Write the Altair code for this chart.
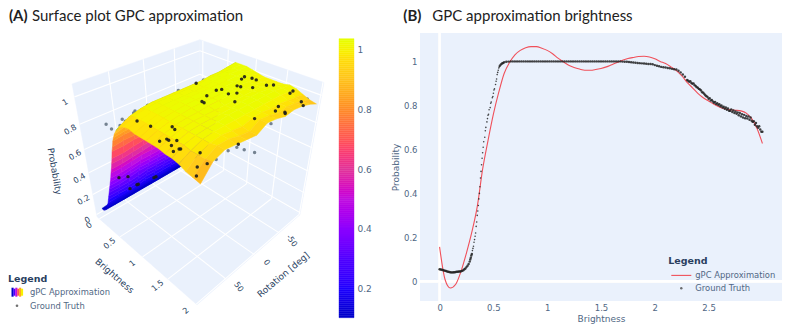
import altair as alt
import pandas as pd

# ---------- chart values ----------
surface_brightness = [0, .05, .1, .15, .175, .2, .225, .25, .275, .3, .325, .35, .375, .4, .425, .45, .475, .5, .525, .55, .575, .6, .65, .7, .8, .9, 1, 1.1, 1.2, 1.3, 1.4, 1.5, 1.6, 1.7, 1.8, 1.9, 2]
surface_rotation = [90, 75, 60, 45, 30, 15, 0, -15, -30, -45, -60, -75, -90]
surface_pct = [
    [6, 7, 8, 8, 8, 8, 8, 8, 8, 8, 8, 8, 8],
    [6, 7, 7, 7, 7, 7, 7, 7, 7, 7, 7, 7, 7],
    [8, 8, 8, 8, 8, 8, 8, 8, 8, 8, 8, 8, 8],
    [12, 12, 12, 13, 13, 13, 13, 13, 13, 13, 13, 13, 13],
    [15, 15, 15, 16, 16, 16, 16, 16, 16, 16, 16, 16, 16],
    [18, 18, 18, 19, 20, 20, 20, 20, 20, 20, 20, 20, 20],
    [22, 22, 22, 23, 24, 24, 24, 24, 24, 24, 24, 24, 24],
    [26, 26, 26, 27, 28, 28, 28, 28, 28, 28, 28, 28, 28],
    [30, 30, 30, 31, 32, 32, 32, 32, 32, 32, 32, 32, 32],
    [34, 34, 35, 36, 36, 36, 36, 36, 36, 36, 36, 36, 37],
    [38, 38, 39, 40, 40, 40, 40, 40, 40, 40, 40, 40, 41],
    [42, 42, 43, 44, 44, 44, 44, 44, 44, 45, 45, 45, 45],
    [46, 46, 47, 48, 48, 48, 48, 48, 49, 49, 49, 50, 50],
    [51, 51, 52, 53, 53, 53, 53, 53, 54, 54, 54, 55, 55],
    [55, 55, 56, 57, 58, 58, 58, 58, 59, 59, 59, 60, 60],
    [60, 60, 61, 62, 63, 63, 63, 63, 64, 64, 64, 65, 66],
    [65, 65, 66, 67, 68, 68, 68, 68, 69, 69, 70, 71, 71],
    [71, 71, 72, 72, 73, 73, 73, 73, 74, 74, 75, 76, 77],
    [75, 76, 76, 77, 77, 77, 77, 78, 78, 79, 80, 81, 82],
    [80, 81, 81, 82, 82, 82, 82, 83, 83, 84, 84, 85, 86],
    [83, 84, 85, 86, 86, 86, 86, 87, 87, 88, 88, 89, 90],
    [86, 88, 90, 91, 91, 91, 91, 91, 91, 92, 92, 93, 94],
    [90, 93, 95, 96, 96, 96, 96, 96, 96, 97, 97, 98, 99],
    [93, 97, 99, 100, 100, 100, 100, 100, 100, 101, 101, 102, 103],
    [96, 99, 101, 102, 102, 102, 102, 102, 103, 103, 103, 103, 103],
    [97, 99, 101, 102, 102, 102, 102, 102, 103, 103, 103, 103, 103],
    [96, 99, 101, 102, 103, 103, 103, 103, 103, 103, 103, 103, 102],
    [96, 99, 101, 102, 103, 103, 103, 103, 103, 103, 103, 102, 101],
    [96, 99, 101, 102, 103, 103, 103, 103, 103, 103, 102, 101, 100],
    [96, 99, 101, 102, 102, 103, 103, 103, 103, 102, 102, 101, 100],
    [96, 99, 101, 102, 102, 102, 102, 102, 102, 102, 102, 101, 100],
    [95, 99, 101, 102, 102, 102, 102, 103, 103, 103, 102, 102, 100],
    [95, 99, 101, 102, 102, 103, 103, 103, 103, 103, 103, 102, 101],
    [94, 98, 101, 102, 102, 102, 102, 102, 102, 102, 102, 101, 100],
    [92, 98, 101, 102, 101, 100, 102, 102, 101, 101, 100, 99, 98],
    [91, 98, 102, 102, 100, 99, 103, 102, 100, 101, 100, 98, 96],
    [90, 99, 102, 101, 100, 99, 103, 102, 100, 101, 100, 98, 95],
]
# rim of the surface appears darker than its height gives: colour offset per brightness row
rim_shade = {1.7: .01, 1.8: .03, 1.9: .06}

# ground truth over the surface: brightness, rotation, probability
front_b = [1.03, 1.01, 1.11, 1.18, 1.12, 1.17, 1.29, 1.25, 1.19, 1.02, 1.05, 1.04, 1.10, 1.14, 1.38, 1.37, 1.43, 1.71, 1.70, 1.93, 1.85, 1.81, 1.94, 1.96, 1.79, 2.0, 1.85, 1.83, 2.0, 1.79, 1.80, .70, 1.28, 1.34, 1.11, .92, 1.40, 1.42, 1.45, 1.51, 1.54, 1.63, 1.64, 1.65, .242, .311, .534, .534, .54, .578, .58]
front_r = [-66.5, -74, -77, -77, -49, -50, -58, -35, -27, -24, -30, -7, 6, 6.5, -18, -74, -80, -76, -83, -68, -32, -42, -37, -35, -5, -62, 25, 75, 82, 75, 77, -21, 63, 64.6, 77, 80, 88, 81, 81, 76, 85, 90, 84, 83, 71.8, 62.8, 75, 64.6, 63, 41.5, 38.5]
front_p = [1, 1, 1, 1, 1, 1, 1, 1, 1, 1, 1, 1, 1, 1, 1, 1, 1, 1, 1, 1, 1, 1, 1, 1, 1, 1, .92, 1, 1, .9, .85, 1, 1, 1, 1, 1, 1, 1, 1, 1, 1, 1, 1, 1, .367, .367, .367, .367, .367, .367, .367]
# ground truth outside the surface silhouette
back_b = [1.56, 1.57, 1.55, 1.575, 1.67, 1.79, 1.53, 1.42, 1.94, .70, .69, .72, .456, .56, .66, .66, .685, .71, .726, .726, .726]
back_r = [41.8, 28, 7.5, -4, -6, -10, -70, -82, -78, -33, 6, 52, 90, 90, 85, 85, 83, 81, 79, 71, 69]
back_p = [.75, .75, .75, .75, .75, .75, .75, .75, 1, 1, 1, 1, .90, .89, .91, .925, .967, .955, .95, .99, 1.0]

curve_b = [0, .05, .1, .15, .2, .25, .3, .35, .4, .45, .5, .55, .6, .65, .7, .75, .8, .85, .9, .95, 1, 1.05, 1.1, 1.15, 1.2, 1.25, 1.3, 1.35, 1.4, 1.45, 1.5, 1.55, 1.6, 1.65, 1.7, 1.75, 1.8, 1.85, 1.9, 1.95, 2, 2.05, 2.1, 2.15, 2.2, 2.25, 2.3, 2.35, 2.4, 2.45, 2.5, 2.55, 2.6, 2.65, 2.7, 2.75, 2.8, 2.85, 2.9, 2.95, 3]
curve_p = [.157, .01, -.03, -.013, .047, .13, .225, .34, .51, .64, .76, .86, .945, .995, 1.03, 1.05, 1.062, 1.067, 1.067, 1.06, 1.05, 1.035, 1.015, .998, .982, .972, .965, .96, .96, .963, .968, .975, .985, .995, 1.005, 1.013, 1.018, 1.022, 1.023, 1.02, 1.012, 1.0, .99, .975, .958, .935, .905, .88, .855, .835, .82, .805, .793, .785, .78, .778, .775, .765, .74, .695, .627]

truth_b = [0, .01, .02, .03, .04, .05, .06, .07, .08, .09, .1, .11, .12, .13, .14, .15, .16, .17, .18, .19, .2, .21, .22, .23, .24, .25, .26, .27, .28, .285, .29, .295, .3, .305, .31, .315, .32, .325, .33, .335, .34, .345, .35, .355, .36, .365, .37, .375, .38, .385, .39, .395, .4, .405, .41, .42, .425, .43, .44, .445, .45, .455, .46, .47, .475, .48, .49, .495, .5, .505, .51, .52, .525, .53, .535, .54, .545, .55, .555, .56, .57, .58, .59, .6, .62, .64,
           .66, .68, .7, .72, .74, .76, .78, .8, .82, .84, .86, .88, .9, .92, .94, .96, .98, 1, 1.02, 1.04, 1.06, 1.08, 1.1, 1.12, 1.14, 1.16, 1.18, 1.2, 1.22, 1.24, 1.26, 1.28, 1.3, 1.32, 1.34, 1.36, 1.38, 1.4, 1.42, 1.44, 1.46, 1.48, 1.5, 1.52, 1.54, 1.56, 1.58, 1.6, 1.62, 1.64, 1.66, 1.68,
           1.7, 1.72, 1.74, 1.76, 1.78, 1.8, 1.82, 1.84, 1.86, 1.88, 1.9, 1.92, 1.94, 1.96, 1.98, 2, 2.02, 2.04, 2.06, 2.08, 2.1, 2.12, 2.14, 2.16, 2.18, 2.2, 2.22, 2.24, 2.26, 2.28, 2.3, 2.31, 2.32, 2.33, 2.34, 2.35, 2.36, 2.37, 2.38, 2.39, 2.4, 2.41, 2.42, 2.43, 2.44, 2.45, 2.46, 2.47, 2.48, 2.49,
           2.5, 2.51, 2.52, 2.53, 2.54, 2.55, 2.56, 2.57, 2.58, 2.59, 2.6, 2.61, 2.62, 2.63, 2.64, 2.65, 2.66, 2.67, 2.68, 2.69, 2.7, 2.71, 2.72, 2.73, 2.74, 2.75, 2.76, 2.77, 2.78, 2.79, 2.8, 2.81, 2.82, 2.83, 2.84, 2.85, 2.86, 2.87, 2.88, 2.89, 2.9, 2.91, 2.92, 2.93, 2.94, 2.95, 2.96, 2.97, 2.98, 2.99, 3]
truth_p = ([.055, .054, .053, .052, .05, .049, .047, .045, .044, .043, .042, .041, .041, .042, .042, .043, .044, .044, .045, .045, .046, .048, .051, .055, .059, .065, .071, .079, .09, .1, .108, .118, .125, .14, .15, .16, .178, .19, .205, .22, .25, .27, .3, .32, .345, .375, .4, .43, .47, .5, .53, .56, .585, .61, .635, .655, .685, .7, .725, .74, .755, .76, .78, .79, .81, .815, .835, .84, .855, .87, .875, .895, .91, .92, .94, .95, .96, .97, .975, .98, .986, .99, .993, .996, .998, .999]
           + [1] * 52
           + [.999, .998, .998, .997, .996, .995, .994, .993, .992, .991, .99, .989, .988, .988, .987, .983, .98, .978, .975, .973, .972, .97, .969, .966, .964, .963, .957, .95, .94, .93, .915, .912, .907, .91, .902, .898, .9, .892, .888, .883, .88, .875, .872, .868, .86, .858, .852, .846, .842, .838]
           + [.83, .832, .822, .825, .818, .812, .816, .806, .81, .802, .805, .796, .8, .79, .794, .785, .79, .78, .786, .776, .775, .782, .77, .777, .765, .772, .762, .768, .755, .765, .75, .76, .745, .757, .742, .752, .74, .75, .735, .745, .73, .725, .728, .712, .72, .705, .698, .705, .69, .68, .68])

b_ticks = [0, .5, 1, 1.5, 2]
r_ticks = [-50, 0, 50]
p_ticks = [0, .2, .4, .6, .8, 1]
colorbar_ticks = [.2, .4, .6, .8, 1]
b_ticks_2d = [0, .5, 1, 1.5, 2, 2.5]
p_ticks_2d = [0, .2, .4, .6, .8, 1]
legend_names = ["gPC Approximation", "Ground Truth"]
swatch_values = [.1, .3, .5, .7, .85, 1]

# ---------- colours and text ----------
FONT = "DejaVu Sans"
TITLE_FONT = "Lato"
NAVY = "#2a3f5f"
SLATE = "#506784"
BG = "#eaf1fc"
RED = "#f0505a"
OLIVE = "#b9cc14"
CB_MIN, CB_MAX = .103, 1.037
stops = [CB_MIN, .2, .3, .4, .5, .6, .7, .8, .9, .97, 1, CB_MAX]
stop_colors = ["#0000c8", "#1e00ff", "#5000ff", "#8a00ff", "#c010e0", "#e0359a", "#ff5555", "#ff8c28", "#ffc31e", "#ffdf0a", "#f8f200", "#e6ff00"]
color_scale = alt.Scale(domain=stops, range=stop_colors, clamp=True)

# ---------- 3-D scene: camera of the left panel ----------
CAM = [[97, 60.28, 144.28, -39], [217, 26.61, -27.32, -149.2], [1, -.2016, .207, -.195]]
ORIGIN_X, ORIGIN_Y = 8, 33.3


def scene(u, w, z):
    n = [row[0] + row[1] * u + row[2] * w + row[3] * z for row in CAM]
    return n[0] / n[2] - ORIGIN_X, n[1] / n[2] - ORIGIN_Y, n[2]


def ub(b):
    return .03 + .482 * b


def wr(r):
    return .5 - .0052 * r


def zp(p):
    return .02 + .9 * p


def proj(b, r, p):
    return scene(ub(b), wr(r), zp(p))


def poly(points, **props):
    ring = [[p[0], p[1]] for p in points]
    ring.append(ring[0])
    return {"type": "Feature", "properties": props, "geometry": {"type": "Polygon", "coordinates": [ring]}}


def seg(a, b):
    return {"type": "Feature", "properties": {}, "geometry": {"type": "LineString", "coordinates": [list(a[:2]), list(b[:2])]}}


def signed_area(c):
    return sum(c[i][0] * c[(i + 1) % 4][1] - c[(i + 1) % 4][0] * c[i][1] for i in range(4)) / 2


IDENT = dict(type="identity", scale=1, translate=[0, 0])

walls = [
    poly([scene(0, 0, 0), scene(1, 0, 0), scene(1, 1, 0), scene(0, 1, 0)]),
    poly([scene(0, 0, 0), scene(0, 1, 0), scene(0, 1, 1), scene(0, 0, 1)]),
    poly([scene(0, 1, 0), scene(1, 1, 0), scene(1, 1, 1), scene(0, 1, 1)]),
]
grid = []
for b in b_ticks:
    u = ub(b)
    grid += [seg(scene(u, 0, 0), scene(u, 1, 0)), seg(scene(u, 1, 0), scene(u, 1, 1))]
for r in r_ticks:
    w = wr(r)
    grid += [seg(scene(0, w, 0), scene(1, w, 0)), seg(scene(0, w, 0), scene(0, w, 1))]
for p in p_ticks:
    z = zp(p)
    grid += [seg(scene(0, 0, z), scene(0, 1, z)), seg(scene(0, 1, z), scene(1, 1, z))]

quads = []
ref_sign = signed_area([proj(1, 50, 1), proj(1.2, 50, 1), proj(1.2, 30, 1), proj(1, 30, 1)])
for i in range(len(surface_brightness) - 1):
    for j in range(len(surface_rotation) - 1):
        corners = []
        vals = []
        for a, c in ((i, j), (i + 1, j), (i + 1, j + 1), (i, j + 1)):
            v = surface_pct[a][c] / 100
            vals.append(v)
            corners.append(proj(surface_brightness[a], surface_rotation[c], v))
        depth = sum(k[2] for k in corners) / 4
        mean = sum(vals) / 4
        under = signed_area(corners) * ref_sign < 0 and mean > .93
        tone = mean - rim_shade.get(surface_brightness[i], 0)
        quads.append((depth, poly(corners, p=tone, under=bool(under))))
quads.sort(key=lambda q: -q[0])
quad_features = [q[1] for q in quads]


def pts(bs, rs, ps):
    rows = [proj(b, r, p) for b, r, p in zip(bs, rs, ps)]
    return pd.DataFrame({"lon": [k[0] for k in rows], "lat": [k[1] for k in rows]})


def geo(features):
    return alt.Chart(alt.InlineData(values=features))


walls_layer = geo(walls).mark_geoshape(fill=BG, stroke=BG, strokeWidth=.5).project(**IDENT)
grid_layer = geo(grid).mark_geoshape(filled=False, stroke="white", strokeWidth=1.1).project(**IDENT)
back_layer = alt.Chart(pts(back_b, back_r, back_p)).mark_circle(size=12, color="#5f6e7e", opacity=.85).encode(longitude="lon:Q", latitude="lat:Q").project(**IDENT)
surface_layer = geo(quad_features).mark_geoshape(strokeWidth=.5).encode(
    fill=alt.condition("datum.properties.under", alt.value(OLIVE), alt.Fill("properties.p:Q", scale=color_scale, legend=None)),
    stroke=alt.condition("datum.properties.under", alt.value(OLIVE), alt.Stroke("properties.p:Q", scale=color_scale, legend=None)),
).project(**IDENT)
front_layer = alt.Chart(pts(front_b, front_r, front_p)).mark_circle(size=12, color="#1c1c1c", opacity=.9).encode(longitude="lon:Q", latitude="lat:Q").project(**IDENT)

# colour bar: cells of the colour scale against their own value axis
cell_count = 140
cell_step = (CB_MAX - CB_MIN) / cell_count
cb_df = pd.DataFrame({"v0": [CB_MIN + k * cell_step for k in range(cell_count)]})
cb_df["v1"] = cb_df["v0"] + cell_step
cb_df["c"] = cb_df["v0"] + cell_step / 2
colorbar_layer = alt.Chart(cb_df).mark_rect(strokeWidth=.4).encode(
    x=alt.value(331), x2=alt.value(346),
    y=alt.Y("v0:Q", scale=alt.Scale(domain=[CB_MIN, CB_MAX], range=[284.7, 5.7], nice=False, zero=False), axis=alt.Axis(
        orient="right", offset=-37, values=colorbar_ticks, format="~g", title=None, grid=False, domain=False, ticks=False,
        labelFontSize=9, labelColor=SLATE, labelPadding=3)),
    y2="v1:Q",
    fill=alt.Fill("c:Q", scale=color_scale, legend=None),
    stroke=alt.Stroke("c:Q", scale=color_scale, legend=None),
)


def tick_layer(rows, labels, angle, ox, oy, size=8, color=NAVY):
    df = pd.DataFrame({"lon": [k[0] + ox for k in rows], "lat": [k[1] + oy for k in rows], "t": labels})
    return alt.Chart(df).mark_text(font=FONT, fontSize=size, color=color, angle=angle).encode(
        longitude="lon:Q", latitude="lat:Q", text="t:N").project(**IDENT)


b_label_layer = tick_layer([scene(ub(b), 0, 0) for b in b_ticks], [f"{b:g}" for b in b_ticks], 320, -10, 7)
r_label_layer = tick_layer([scene(1, wr(r), 0) for r in r_ticks], [f"{r:g}" for r in r_ticks], 55, 12, 8)
p_label_layer = tick_layer([scene(0, 0, zp(p)) for p in p_ticks], [f"{p:g}" for p in p_ticks], 330, -9, 6)
b_title_layer = tick_layer([scene(ub(1), 0, 0)], ["Brightness"], 41, -28, 19, 9)
r_title_layer = tick_layer([scene(1, wr(0), 0)], ["Rotation [deg]"], 320, 29, 20, 9)
p_title_layer = tick_layer([scene(0, 0, zp(.5))], ["Probability"], 80, -32, 10, 9)

# legend swatch of the left panel
swatch = []
for i, v in enumerate(swatch_values):
    x0 = 3.5 + i * 1.9
    swatch.append(poly([(x0, 254.7 + (i % 2)), (x0 + 2.1, 254.7 + (i % 2)), (x0 + 2.1, 263.7 - (i % 2)), (x0, 263.7 - (i % 2))], p=v))
swatch_layer = geo(swatch).mark_geoshape(strokeWidth=.3).encode(
    fill=alt.Fill("properties.p:Q", scale=color_scale, legend=None),
).project(**IDENT)


def text(label, x, y, size=8.4, color=SLATE, weight="normal", font=FONT):
    return alt.Chart(pd.DataFrame({"t": [label]})).mark_text(
        font=font, fontSize=size, color=color, fontWeight=weight, align="left", baseline="middle"
    ).encode(x=alt.value(x), y=alt.value(y), text="t:N")


left = alt.layer(
    walls_layer, grid_layer, back_layer, surface_layer, front_layer, colorbar_layer,
    b_label_layer, r_label_layer, p_label_layer, b_title_layer, r_title_layer, p_title_layer,
    swatch_layer,
    text("(A)", 1, -17, 15, "#222222", "bold", TITLE_FONT),
    text("Surface plot GPC approximation", 24, -17, 15, "#222222", "normal", TITLE_FONT),
    text("Legend", 0, 245.7, 9.5, NAVY, "bold"),
    text(legend_names[0], 22, 258.7),
    text(legend_names[1], 22, 272.7),
    alt.Chart(pd.DataFrame({"t": [legend_names[1]]})).mark_circle(size=7, color="#333333").encode(x=alt.value(9), y=alt.value(272.7)),
).properties(width=383, height=292)

# ---------- right panel ----------
x_scale = alt.Scale(domain=[-.182, 3.182], nice=False, zero=False)
y_scale = alt.Scale(domain=[-.089, 1.129], nice=False, zero=False)
curve_df = pd.DataFrame({"b": curve_b, "p": curve_p})
truth_df = pd.DataFrame({"b": truth_b, "p": truth_p})

base_axes = alt.Chart(curve_df).mark_line(color=RED, strokeWidth=1.1, interpolate="monotone").encode(
    x=alt.X("b:Q", scale=x_scale, axis=alt.Axis(
        values=b_ticks_2d, format="~g", gridColor="white", gridWidth=1, domain=False, ticks=False,
        labelFontSize=8.5, labelColor=SLATE, labelPadding=2, title="Brightness", titleFontSize=9,
        titleColor=SLATE, titleFontWeight="normal", titlePadding=3)),
    y=alt.Y("p:Q", scale=y_scale, axis=alt.Axis(
        values=p_ticks_2d, format="~g", gridColor="white", gridWidth=1, domain=False, ticks=False,
        labelFontSize=8.5, labelColor=SLATE, labelPadding=3, title="Probability", titleFontSize=9,
        titleColor=SLATE, titleFontWeight="normal", titlePadding=3)),
)
zero_x = alt.Chart(curve_df).mark_rule(color="white", strokeWidth=1.6).encode(x=alt.datum(0))
zero_y = alt.Chart(curve_df).mark_rule(color="white", strokeWidth=1.6).encode(y=alt.datum(0))
truth_layer = alt.Chart(truth_df).mark_circle(color="#222222", opacity=.85).encode(
    x="b:Q", y="p:Q", size=alt.condition("datum.b > 0.3 && datum.b < 0.56", alt.value(2.5), alt.value(6)))
legend_line = alt.Chart(pd.DataFrame({"t": [legend_names[0]]})).mark_rule(color=RED, strokeWidth=1.1).encode(
    x=alt.value(251.3), x2=alt.value(271.3), y=alt.value(242.4))
legend_dot = alt.Chart(pd.DataFrame({"t": [legend_names[1]]})).mark_circle(size=6, color="#333333").encode(
    x=alt.value(261.3), y=alt.value(255.2))

right = alt.layer(
    zero_x, zero_y, base_axes, truth_layer,
    legend_line, legend_dot,
    text("Legend", 248.3, 227.7, 9.5, NAVY, "bold"),
    text(legend_names[0], 275.3, 242.4),
    text(legend_names[1], 275.3, 255.2),
    text("(B)", -16.7, -17, 15, "#222222", "bold", TITLE_FONT),
    text("GPC approximation brightness", 12.3, -17, 15, "#222222", "normal", TITLE_FONT),
).properties(width=362, height=268, view=alt.ViewBackground(fill=BG, stroke=None))

chart = alt.hconcat(left, right, spacing=0).properties(padding={"left": 0, "top": 1, "right": 0, "bottom": 0}).configure(font=FONT).configure_view(stroke=None)
chart.save("out.html", embed_options={"renderer": "svg", "actions": False})
